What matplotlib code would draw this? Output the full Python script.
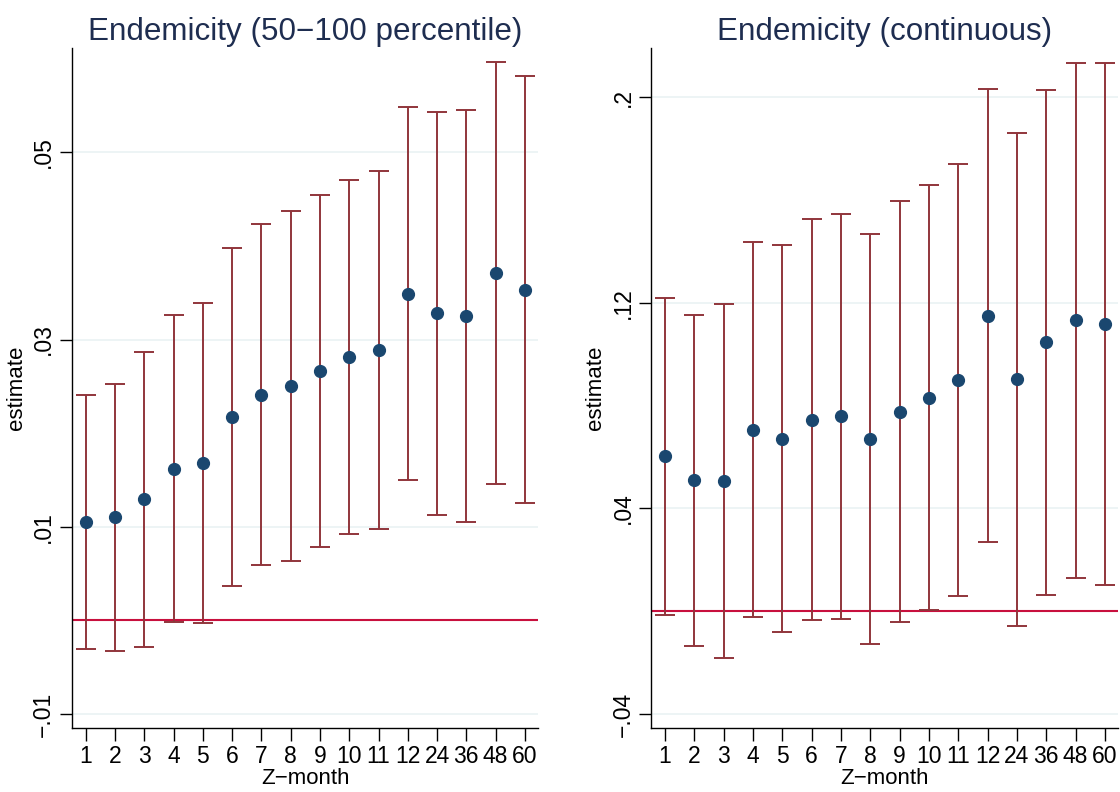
import numpy as np
import matplotlib
matplotlib.use('Agg')
from matplotlib import pyplot as plt

months = ['1', '2', '3', '4', '5', '6', '7', '8', '9', '10', '11', '12', '24', '36', '48', '60']

# Endemicity (50-100 percentile)
est_pct = [0.0105, 0.0110, 0.0130, 0.0162, 0.0168, 0.0217, 0.0241, 0.0250, 0.0266, 0.0281, 0.0289,
           0.0349, 0.0328, 0.0325, 0.0371, 0.0353]
hi_pct = [0.0241, 0.0252, 0.0287, 0.0326, 0.0339, 0.0398, 0.0423, 0.0437, 0.0454, 0.0470, 0.0480,
          0.0548, 0.0543, 0.0545, 0.0596, 0.0581]
lo_pct = [-0.0030, -0.0033, -0.0028, -0.0002, -0.0003, 0.0037, 0.0059, 0.0064, 0.0078, 0.0092, 0.0098,
          0.0150, 0.0113, 0.0105, 0.0146, 0.0125]

# Endemicity (continuous)
est_cont = [0.0603, 0.0510, 0.0507, 0.0704, 0.0670, 0.0745, 0.0759, 0.0672, 0.0777, 0.0831, 0.0901,
            0.1150, 0.0904, 0.1047, 0.1134, 0.1117]
hi_cont = [0.1220, 0.1153, 0.1197, 0.1436, 0.1424, 0.1528, 0.1547, 0.1469, 0.1595, 0.1659, 0.1742,
           0.2031, 0.1863, 0.2030, 0.2135, 0.2133]
lo_cont = [-0.0014, -0.0134, -0.0181, -0.0024, -0.0082, -0.0036, -0.0029, -0.0127, -0.0042, 0.0003, 0.0060,
           0.0269, -0.0056, 0.0064, 0.0130, 0.0101]

navy = '#1a476f'
maroon = '#90353b'
redline = '#c8103e'
title_col = '#1e2d50'

plt.rcParams['font.family'] = ['Liberation Sans', 'DejaVu Sans']

fig = plt.figure(figsize=(11.2, 7.92), dpi=100)
ax1 = fig.add_axes([0.0643, 0.0808, 0.4161, 0.8586])
ax2 = fig.add_axes([0.5813, 0.0808, 0.4170, 0.8586])

panels = [
    (ax1, 'Endemicity (50\u2212100 percentile)', est_pct, lo_pct, hi_pct,
     [-0.01, 0.01, 0.03, 0.05], ['\u2212.01', '.01', '.03', '.05'], (-0.01148, 0.06113)),
    (ax2, 'Endemicity (continuous)', est_cont, lo_cont, hi_cont,
     [-0.04, 0.04, 0.12, 0.2], ['\u2212.04', '.04', '.12', '.2'], (-0.04547, 0.2192)),
]

for ax, title, est, lo, hi, yt, ytl, ylim in panels:
    x = np.arange(len(months))
    est = np.array(est)
    lo = np.array(lo)
    hi = np.array(hi)
    for yv in yt:
        ax.axhline(yv, color='#eaf2f3', lw=1.2, zorder=0)
    ax.axhline(0, color=redline, lw=1.5, zorder=1)
    ax.errorbar(x, est, yerr=[est - lo, hi - est], fmt='none', ecolor=maroon,
                elinewidth=1.4, capsize=7, capthick=1.4, zorder=2)
    ax.plot(x, est, 'o', color=navy, ms=8.5, zorder=3)
    ax.set_xlim(-0.47, 15.45)
    ax.set_ylim(*ylim)
    ax.set_xticks(x)
    ax.set_xticklabels(months, fontsize=16.5)
    ax.set_yticks(yt)
    ax.set_yticklabels(ytl, fontsize=16.5, rotation=90, va='center')
    ax.tick_params(axis='both', length=9, width=1, color='black', pad=3)
    for s in ['top', 'right']:
        ax.spines[s].set_visible(False)
    ax.spines['left'].set_linewidth(1)
    ax.spines['bottom'].set_linewidth(1)
    ax.set_xlabel('Z\u2212month', fontsize=16, labelpad=0)
    ax.set_ylabel('estimate', fontsize=16, labelpad=4)
    ax.set_title(title, fontsize=22.6, color=title_col, pad=6)

fig.savefig('out.png', dpi=100, facecolor='white')
